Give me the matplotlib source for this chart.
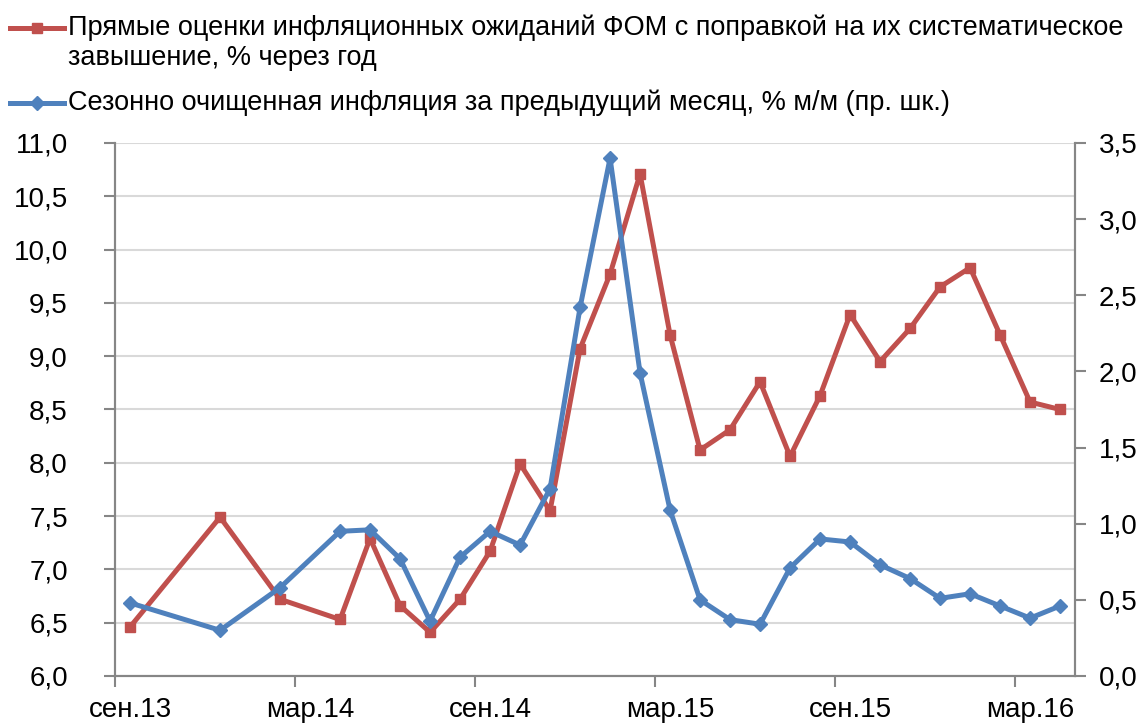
import pandas as pd
import matplotlib.pyplot as plt
from matplotlib.lines import Line2D
from matplotlib.ticker import FixedLocator, FuncFormatter

plt.rcParams["font.family"] = ["Liberation Sans", "DejaVu Sans"]

# Данные (месяц наблюдения)
months = ["2013-09", "2013-12", "2014-02", "2014-04", "2014-05", "2014-06",
          "2014-07", "2014-08", "2014-09", "2014-10", "2014-11", "2014-12",
          "2015-01", "2015-02", "2015-03", "2015-04", "2015-05", "2015-06",
          "2015-07", "2015-08", "2015-09", "2015-10", "2015-11", "2015-12",
          "2016-01", "2016-02", "2016-03", "2016-04"]

# Прямые оценки инфляционных ожиданий ФОМ, % через год (лев. шк.)
ozhidaniya = [6.46, 7.49, 6.72, 6.53, 7.29, 6.66,
              6.41, 6.72, 7.17, 7.99, 7.55, 9.07,
              9.77, 10.71, 9.20, 8.12, 8.31, 8.76,
              8.06, 8.63, 9.39, 8.95, 9.26, 9.65,
              9.83, 9.20, 8.57, 8.50]

# Сезонно очищенная инфляция, % м/м (пр. шк.)
inflyatsiya = [0.48, 0.30, 0.58, 0.95, 0.96, 0.77,
               0.36, 0.78, 0.95, 0.86, 1.23, 2.42,
               3.40, 1.99, 1.09, 0.50, 0.37, 0.34,
               0.71, 0.90, 0.88, 0.73, 0.64, 0.51,
               0.54, 0.46, 0.38, 0.46]

tick_labels = ["сен.13", "мар.14", "сен.14", "мар.15", "сен.15", "мар.16"]

# позиция месяца на оси: номер месяца от сентября 2013 + середина интервала
start = pd.Period("2013-09", freq="M")
x = [(pd.Period(m, freq="M") - start).n + 0.5 for m in months]

RED = "#C0504D"
BLUE = "#4F81BD"
AXIS = "#868686"
GRID = "#D9D9D9"
FS = 20      # подписи осей
FS_LEG = 19.5
LW = 3.6

fig = plt.figure(figsize=(11.38, 7.24), dpi=100)
ax = fig.add_axes([0.1011, 0.0663, 0.8436, 0.7362])
ax2 = ax.twinx()

ax.plot(x, ozhidaniya, color=RED, lw=LW, marker="s", markersize=7,
        solid_joinstyle="round", zorder=3)
ax2.plot(x, inflyatsiya, color=BLUE, lw=LW, marker="D", markersize=7,
         solid_joinstyle="round", zorder=3)

ax.set_xlim(0, 32)
ax.set_ylim(6, 11)
ax2.set_ylim(0, 3.5)
ax.set_yticks([6 + 0.5 * k for k in range(11)])
ax2.set_yticks([0.5 * k for k in range(8)])
fmt = FuncFormatter(lambda v, p: f"{v:.1f}".replace(".", ","))
ax.yaxis.set_major_formatter(fmt)
ax2.yaxis.set_major_formatter(fmt)

# метки делений на границах месяцев, подписи по центру месяца
ax.xaxis.set_major_locator(FixedLocator([0, 6, 12, 18, 24, 30]))
ax.xaxis.set_minor_locator(FixedLocator([0.5, 6.5, 12.5, 18.5, 24.5, 30.5]))
ax.set_xticklabels([])
ax.set_xticklabels(tick_labels, minor=True)
ax.tick_params(axis="x", which="minor", length=0, pad=15, labelsize=FS)
ax.tick_params(axis="x", which="major", length=8, width=1.5, color=AXIS)
ax.tick_params(axis="y", length=8, width=1.5, color=AXIS, pad=26, labelsize=FS)
ax2.tick_params(axis="y", length=8, width=1.5, color=AXIS, pad=9, labelsize=FS)

ax.grid(axis="y", color=GRID, lw=1.5, zorder=0)
ax.set_axisbelow(True)
for a in (ax, ax2):
    a.spines["top"].set_visible(False)
    for s in ("left", "right", "bottom"):
        a.spines[s].set_color(AXIS)
        a.spines[s].set_linewidth(1.5)

# легенда сверху
fig.add_artist(Line2D([10 / 1138, 64 / 1138], [1 - 28 / 724] * 2, color=RED, lw=LW,
                      transform=fig.transFigure))
fig.add_artist(Line2D([37 / 1138], [1 - 28 / 724], color=RED, marker="s", markersize=7,
                      transform=fig.transFigure))
fig.add_artist(Line2D([10 / 1138, 64 / 1138], [1 - 103 / 724] * 2, color=BLUE, lw=LW,
                      transform=fig.transFigure))
fig.add_artist(Line2D([37 / 1138], [1 - 103 / 724], color=BLUE, marker="D", markersize=7,
                      transform=fig.transFigure))
fig.text(68 / 1138, 1 - 28 / 724,
         "Прямые оценки инфляционных ожиданий ФОМ с поправкой на их систематическое",
         fontsize=FS_LEG, va="center", ha="left")
fig.text(68 / 1138, 1 - 58 / 724, "завышение, % через год",
         fontsize=FS_LEG, va="center", ha="left")
fig.text(68 / 1138, 1 - 103 / 724,
         "Сезонно очищенная инфляция за предыдущий месяц, % м/м (пр. шк.)",
         fontsize=FS_LEG, va="center", ha="left")

fig.savefig("out.png", dpi=100)
